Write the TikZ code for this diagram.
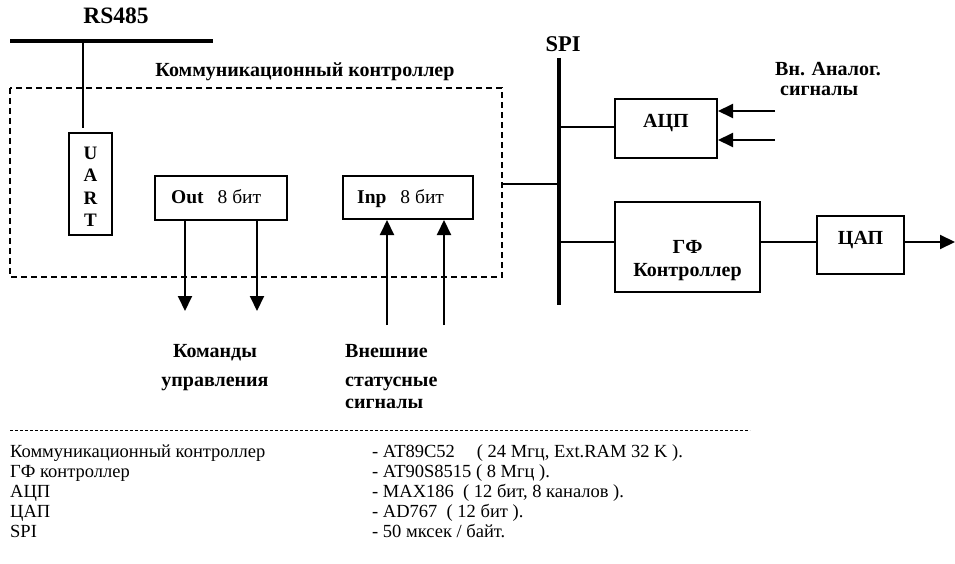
\documentclass[tikz,border=0pt]{standalone}
\usepackage{fontspec}
\setmainfont{Liberation Serif}
\usetikzlibrary{arrows.meta}
\begin{document}
\begin{tikzpicture}[x=1pt,y=-1pt,
  blk/.style={draw,line width=2pt,inner sep=0pt},
  bl/.style={font=\bfseries\fontsize{20}{22}\selectfont,inner sep=0pt},
  bus/.style={line width=3.5pt},
  con/.style={line width=2.2pt},
  arr/.style={line width=2pt,-{Triangle[length=15pt,width=14pt]}},
  lg/.style={font=\fontsize{18.5}{20}\selectfont,anchor=base west,inner sep=0pt}]
\useasboundingbox (0,0) rectangle (955,564);
% RS485
\node[font=\bfseries\fontsize{23.5}{26}\selectfont,anchor=base] (rs) at (116,24) {RS485};
\coordinate (rsL) at (10,41); \coordinate (rsR) at (213,41);
\draw[bus] (rsL) -- (rsR);
% dashed controller
\draw[line width=1.3pt,dash pattern=on 6pt off 4pt] (10,88) rectangle (502,277);
\node[bl,anchor=base] (cclab) at (305,77) {Коммуникационный контроллер};
\coordinate (ccR) at (502,184);
% UART
\node[blk,minimum width=43pt,minimum height=102pt] (uart) at (90.5,184) {};
\node[align=center,font=\bfseries\fontsize{19}{22.5}\selectfont,inner sep=0pt] (uartt) at (90.5,187) {U\\A\\R\\T};
\coordinate (rsT) at (83,41);
\draw[con,line width=2.8pt] (rsT) -- (83,128);
% Out / Inp
\node[blk,minimum width=132pt,minimum height=44pt] (out) at (221,198) {};
\node[anchor=base west,inner sep=0pt] (outt) at (171,204) {\bfseries\fontsize{19.5}{22}\selectfont Out\hspace{14pt}\mdseries 8 бит};
\node[blk,minimum width=130pt,minimum height=43pt] (inp) at (408,197.5) {};
\node[anchor=base west,inner sep=0pt] (inpt) at (357,204) {\bfseries\fontsize{19.5}{22}\selectfont Inp\hspace{14pt}\mdseries 8 бит};
\coordinate (o1) at (185,311); \coordinate (o2) at (257,311);
\coordinate (i1) at (387,325); \coordinate (i2) at (444,325);
\draw[arr] (out.south -| o1) -- (o1);
\draw[arr] (out.south -| o2) -- (o2);
\draw[arr] (i1) -- (inp.south -| i1);
\draw[arr] (i2) -- (inp.south -| i2);
\node[bl,anchor=base] (cmd1) at (215,357) {Команды};
\node[bl,anchor=base] (cmd2) at (215,386) {управления};
\node[bl,anchor=base west] (ext1) at (345,357) {Внешние};
\node[bl,anchor=base west] (ext2) at (345,386) {статусные};
\node[bl,anchor=base west] (ext3) at (345,408) {сигналы};
% SPI bus
\node[font=\bfseries\fontsize{22.5}{26}\selectfont,anchor=base] (spi) at (563,52) {SPI};
\coordinate (spiT) at (559,58); \coordinate (spiB) at (559,305);
\draw[bus] (spiT) -- (spiB);
\draw[con] (ccR) -- (ccR -| spiT);
% ADC
\node[blk,minimum width=102pt,minimum height=59pt] (adc) at (666,128.5) {};
\node[bl,anchor=base] (adct) at (666,128) {АЦП};
\draw[con] (spiT |- 0,127) -- (adc.west |- 0,127);
\coordinate (a1) at (775,111); \coordinate (a2) at (775,140);
\draw[arr] (a1) -- (adc.east |- a1);
\draw[arr] (a2) -- (adc.east |- a2);
\node[bl,anchor=base west] (vn1) at (775,76) {Вн. Аналог.};
\node[bl,anchor=base west] (vn2) at (780,96) {сигналы};
% GF controller
\node[blk,minimum width=145pt,minimum height=90pt] (gf) at (687.5,247) {};
\node[bl,anchor=base] (gft1) at (687.5,253) {ГФ};
\node[bl,anchor=base] (gft2) at (687.5,276) {Контроллер};
\draw[con] (spiT |- 0,242) -- (gf.west |- 0,242);
% DAC
\node[blk,minimum width=87pt,minimum height=58pt] (dac) at (860.5,245) {};
\node[bl,anchor=base] (dact) at (860.5,244) {ЦАП};
\draw[con,line width=2pt] (gf.east |- 0,242) -- (dac.west |- 0,242);
\coordinate (dout) at (955,242);
\draw[arr] (dac.east |- 0,242) -- (dout);
% legend
\draw[line width=0.8pt,dash pattern=on 3pt off 2pt] (10,430) -- (750,430);
\node[lg] (l1) at (10,457) {Коммуникационный контроллер};
\node[lg] (l2) at (10,477) {ГФ контроллер};
\node[lg] (l3) at (10,497) {АЦП};
\node[lg] (l4) at (10,517) {ЦАП};
\node[lg] (l5) at (10,537) {SPI};
\node[lg] (r1) at (372,457) {- AT89C52\hspace{22pt}( 24 Мгц, Ext.RAM 32 K ).};
\node[lg] (r2) at (372,477) {- AT90S8515 ( 8 Мгц ).};
\node[lg] (r3) at (372,497) {- MAX186\ \ ( 12 бит, 8 каналов ).};
\node[lg] (r4) at (372,517) {- AD767\ \ ( 12 бит ).};
\node[lg] (r5) at (372,537) {- 50 мксек / байт.};
\end{tikzpicture}
\end{document}
